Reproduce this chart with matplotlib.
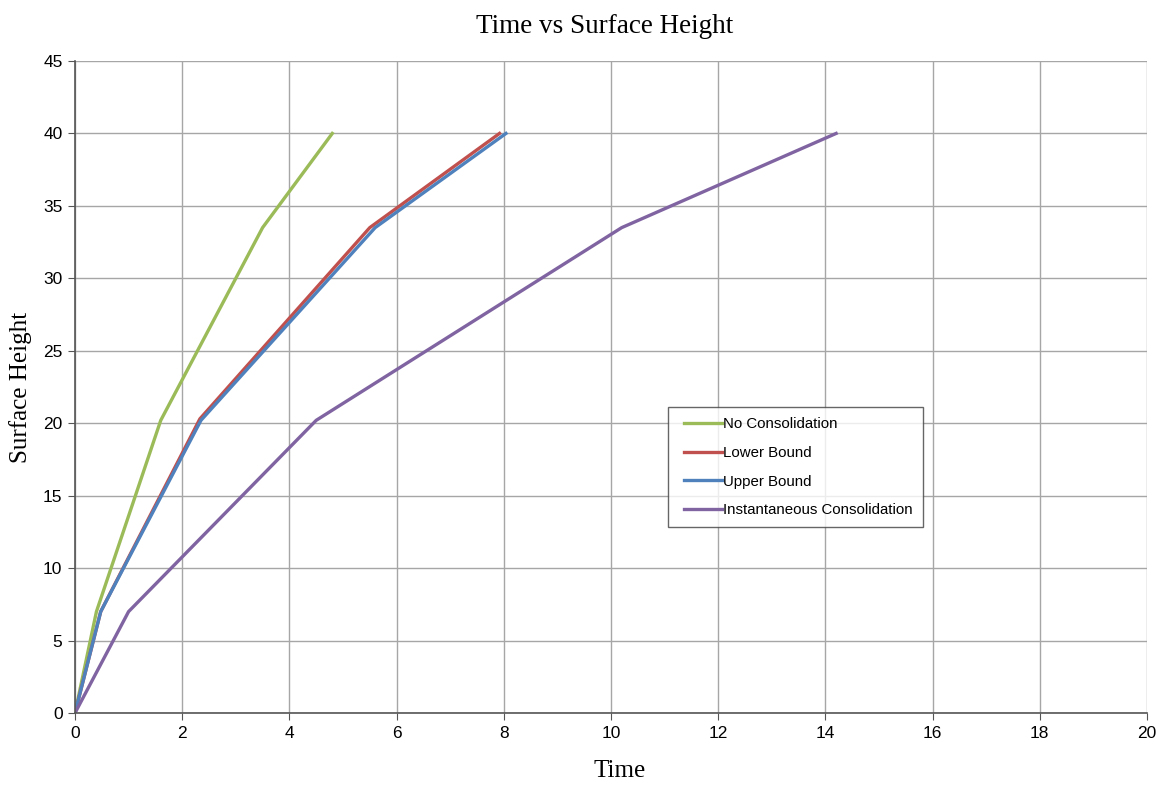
import matplotlib
matplotlib.use("Agg")
import numpy as np
import matplotlib.pyplot as plt

no_cons_t = [0, 0.4, 1.6, 3.5, 4.8]
no_cons_h = [0, 7.0, 20.2, 33.5, 40]
lower_t = [0, 0.48, 2.33, 5.5, 7.92]
lower_h = [0, 7.0, 20.3, 33.5, 40]
upper_t = [0, 0.48, 2.35, 5.6, 8.04]
upper_h = [0, 7.0, 20.2, 33.5, 40]
inst_t = [0, 1.0, 4.5, 10.2, 14.2]
inst_h = [0, 7.0, 20.2, 33.5, 40]

xticks = list(range(0, 21, 2))
yticks = list(range(0, 46, 5))

fig = plt.figure(figsize=(11.63, 7.88), dpi=100)
ax = fig.add_axes([75/1163, 1 - 713/788, 1072/1163, 652/788])

lw = 2.4
ax.plot(no_cons_t, no_cons_h, color="#9BBB59", lw=lw, label="No Consolidation")
ax.plot(lower_t, lower_h, color="#C0504D", lw=lw, label="Lower Bound")
ax.plot(upper_t, upper_h, color="#4F81BD", lw=lw, label="Upper Bound")
ax.plot(inst_t, inst_h, color="#8064A2", lw=lw, label="Instantaneous Consolidation")

ax.set_xlim(0, 20)
ax.set_ylim(0, 45)
ax.set_xticks(xticks)
ax.set_yticks(yticks)
ax.grid(True, color="#a6a6a6", lw=1)
ax.set_axisbelow(True)
for s in ["top", "right"]:
    ax.spines[s].set_visible(False)
for s in ["left", "bottom"]:
    ax.spines[s].set_color("#555555")
    ax.spines[s].set_linewidth(1.2)
ax.tick_params(direction="out", length=5, color="#555555", labelsize=12.5, pad=4)
for lab in ax.get_xticklabels() + ax.get_yticklabels():
    lab.set_fontfamily("Liberation Sans")

ax.set_title("Time vs Surface Height", fontsize=19.5, fontfamily="Liberation Serif", pad=20, x=0.494)
ax.set_xlabel("Time", fontsize=18, fontfamily="Liberation Serif", labelpad=14)
ax.xaxis.set_label_coords(0.508, -0.072)
ax.set_ylabel("Surface Height", fontsize=18, fontfamily="Liberation Serif", labelpad=8)

leg = ax.legend(loc="upper left", bbox_to_anchor=(0.553, 0.469), frameon=True, fancybox=False,
                prop={"family": "Liberation Sans", "size": 10.8}, handlelength=2.95,
                handletextpad=0.05, labelspacing=0.98, borderpad=0.67, borderaxespad=0)
leg.get_frame().set_edgecolor("#404040")
leg.get_frame().set_linewidth(1.0)
for h in leg.legend_handles:
    xd = np.asarray(h.get_xdata(), dtype=float)
    h.set_xdata(np.linspace(xd[0] + 4.3, xd[-1], len(xd)))

fig.savefig("out.png", dpi=100)
